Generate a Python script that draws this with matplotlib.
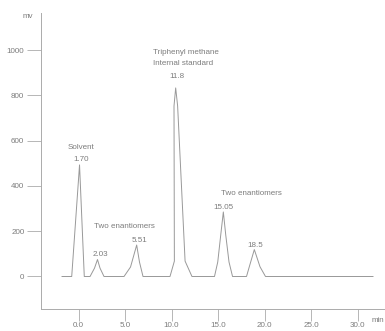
import matplotlib
matplotlib.use('Agg')
import matplotlib.pyplot as plt

# trace (time in min, signal in mV)
trace_t = [-1.77, -0.73, 0.11, 0.62,
           1.24, 1.72, 2.04, 2.31, 2.74,
           4.89, 5.59, 6.25, 6.55, 6.93,
           9.83, 10.30, 10.26, 10.44, 10.65, 11.45, 12.19,
           14.61, 14.96, 15.28, 15.56, 15.82, 16.17, 16.55,
           18.05, 18.35, 18.89, 19.50, 20.09,
           31.64]
trace_mv = [0, 0, 493, 0,
            0, 37, 75, 37, 0,
            0, 42, 139, 64, 0,
            0, 68, 753, 833, 753, 68, 0,
            0, 64, 183, 285, 183, 64, 0,
            0, 43, 119, 43, 0,
            0]

x_ticks = [0, 5, 10, 15, 20, 25, 30]
x_labels = ['0.0', '5.0', '10.0', '15.0', '20.0', '25.0', '30.0']
y_ticks = [0, 200, 400, 600, 800, 1000]

# peak labels: text, time, mV, alignment
labels = [
    ('Solvent', 0.27, 572, 'center'),
    ('1.70', 0.27, 515, 'center'),
    ('Two enantiomers', 4.89, 223, 'center'),
    ('2.03', 2.31, 99, 'center'),
    ('5.51', 6.50, 161, 'center'),
    ('Triphenyl methane', 8.0, 988, 'left'),
    ('Internal standard', 8.0, 939, 'left'),
    ('11.8', 10.53, 882, 'center'),
    ('Two enantiomers', 18.53, 365, 'center'),
    ('15.05', 15.53, 303, 'center'),
    ('18.5', 19.02, 139, 'center'),
]

line_col = '#ababab'
text_col = '#7c7c7c'
plt.rcParams['font.family'] = ['Liberation Sans', 'DejaVu Sans']

fig = plt.figure(figsize=(3.85, 3.31), dpi=100)
ax = fig.add_axes([41/385, 22/331, 1 - 41/385, (309 - 13)/331])

ax.plot(trace_t, trace_mv, color='#999999', lw=0.7)

ax.set_xlim(-4.03, 32.93)
ax.set_ylim(-143.6, 1164)

ax.set_xticks(x_ticks)
ax.set_xticklabels(x_labels)
ax.set_yticks(y_ticks)
ax.tick_params(axis='x', direction='out', length=8.6, width=0.6, pad=1,
               colors=line_col, labelcolor=text_col, labelsize=5.8)
ax.tick_params(axis='y', direction='out', length=10, width=0.6, pad=2,
               colors=line_col, labelcolor=text_col, labelsize=5.8)

for s in ['top', 'right']:
    ax.spines[s].set_visible(False)
for s in ['left', 'bottom']:
    ax.spines[s].set_color(line_col)
    ax.spines[s].set_linewidth(0.7)

for txt, t, v, ha in labels:
    ax.text(t, v, txt, ha=ha, va='center', fontsize=5.8, color=text_col)

fig.text(28/385, 1 - 16/331, 'mv', ha='center', va='center', fontsize=5.8, color=text_col)
fig.text(378/385, 1 - 320/331, 'min', ha='center', va='center', fontsize=5.8, color=text_col)

fig.savefig('out.png', dpi=100)
